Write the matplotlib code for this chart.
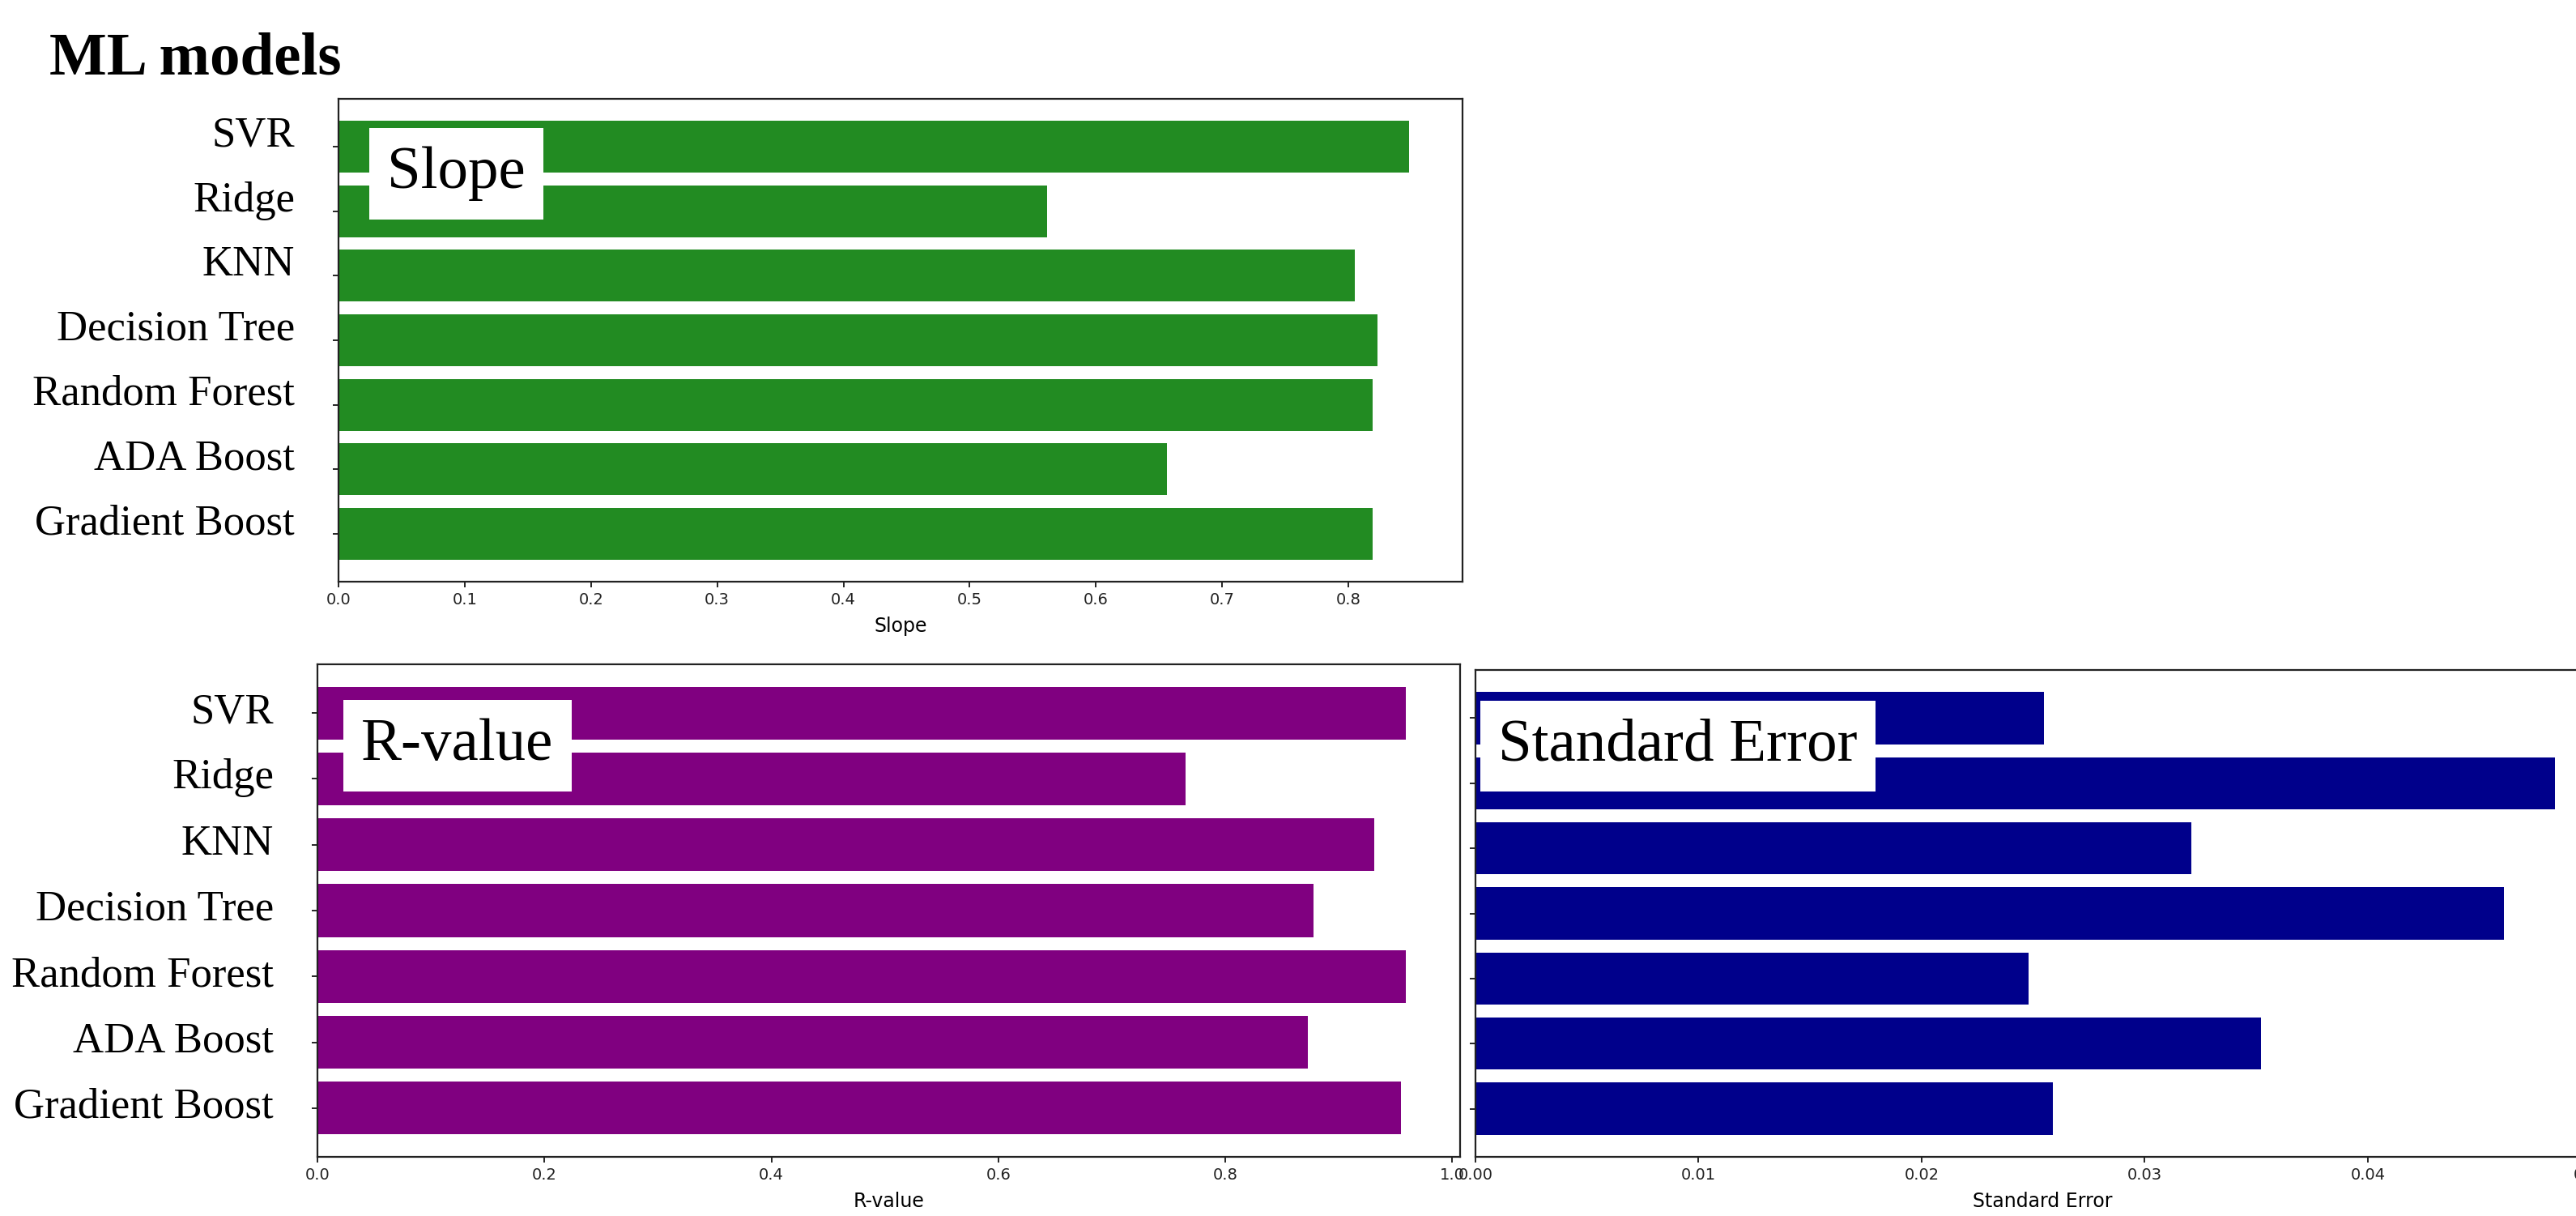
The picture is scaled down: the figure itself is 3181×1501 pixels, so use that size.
import matplotlib
matplotlib.use("Agg")
import matplotlib.pyplot as plt
import numpy as np

# regression diagnostics per model (top to bottom)
models = ["SVR", "Ridge", "KNN", "Decision Tree", "Random Forest", "ADA Boost", "Gradient Boost"]
slope = [0.848, 0.561, 0.805, 0.823, 0.819, 0.656, 0.819]
r_value = [0.959, 0.765, 0.931, 0.878, 0.959, 0.873, 0.955]
std_err = [0.0255, 0.0484, 0.0321, 0.0461, 0.0248, 0.0352, 0.0259]

W, H, DPI = 3181, 1501, 100
PT = 72.0 / DPI  # pixels -> points
SERIF = ["Liberation Serif", "DejaVu Serif"]


def px_axes(fig, left, top, right, bottom):
    return fig.add_axes([left / W, 1 - bottom / H, (right - left) / W, (bottom - top) / H])


def bar_panel(ax, values, color, xlabel):
    y = np.arange(len(values))
    ax.barh(y, values, height=0.8, color=color)
    ax.invert_yaxis()
    ax.set_yticks(y)
    ax.set_yticklabels([])
    ax.tick_params(axis="both", length=7 * PT, width=1.2, pad=4, labelsize=14,
                   labelcolor="#222222")
    ax.set_xlabel(xlabel, fontsize=17, labelpad=8)
    for sp in ax.spines.values():
        sp.set_linewidth(1.6)
        sp.set_color("#222222")


def model_labels(ax, dy_px):
    for i, name in enumerate(models):
        ax.annotate(name, xy=(0, i), xycoords=("axes fraction", "data"),
                    xytext=(-54 * PT, -dy_px * PT), textcoords="offset points",
                    ha="right", va="baseline", fontsize=38, family=SERIF)


def tag(ax, text, dx_px, dy_px):
    ax.annotate(text, xy=(0, 1), xycoords="axes fraction",
                xytext=(dx_px * PT, -dy_px * PT), textcoords="offset points",
                ha="left", va="baseline", fontsize=54, family=SERIF,
                bbox=dict(boxstyle="square,pad=0.3", fc="white", ec="none"))


fig = plt.figure(figsize=(W / DPI, H / DPI), dpi=DPI)

ax1 = px_axes(fig, 418, 122, 1806, 718)
bar_panel(ax1, slope, "forestgreen", "Slope")
model_labels(ax1, 0)
tag(ax1, "Slope", 60, 110)

ax2 = px_axes(fig, 392, 820, 1803, 1428)
bar_panel(ax2, r_value, "purple", "R-value")
model_labels(ax2, 12)
tag(ax2, "R-value", 54, 118)

ax3 = px_axes(fig, 1822, 827, 3222, 1428)
bar_panel(ax3, std_err, "darkblue", "Standard Error")
tag(ax3, "Standard Error", 28, 112)

fig.text(61 / W, 1 - 91 / H, "ML models", fontsize=54, fontweight="bold",
         family=SERIF, ha="left", va="baseline")

fig.savefig("out.png", dpi=DPI)
